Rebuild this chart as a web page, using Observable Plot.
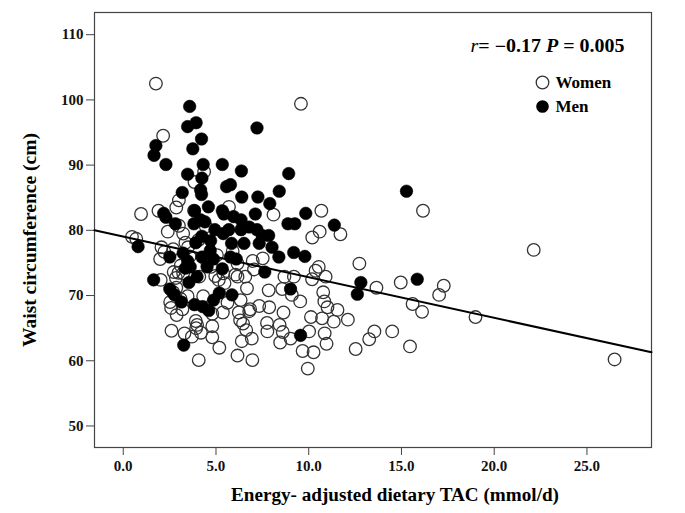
<!DOCTYPE html>
<html>
<head>
<meta charset="utf-8">
<script src="https://cdn.jsdelivr.net/npm/d3@7"></script>
<script src="https://cdn.jsdelivr.net/npm/@observablehq/plot@0.6"></script>
<style>
  html, body { margin: 0; padding: 0; background: #fff; }
  #chart svg { display: block; }
</style>
</head>
<body>
<div id="chart"></div>
<script>
// ---- data ----
const menX = [3.58,3.47,3.93,7.21,4.22,1.76,1.66,3.75,2.30,4.31,5.34,3.47,4.24,8.92,6.37,5.57,5.78,4.17,4.22,3.18,6.39,7.26,8.41,15.27,7.90,4.59,5.34,3.84,2.18,2.30,9.84,5.42,7.12,5.95,6.35,8.88,9.25,11.38,2.81,4.17,4.40,3.81,4.94,5.69,6.35,6.79,7.21,7.49,7.84,5.39,7.33,5.84,6.51,3.91,4.24,4.71,8.02,8.39,9.19,9.79,5.78,6.09,4.69,4.86,4.24,3.23,2.51,3.47,3.61,4.52,3.35,5.34,7.63,3.98,3.54,1.64,15.85,12.81,12.62,9.02,2.51,2.76,5.18,5.86,4.87,3.14,3.84,4.28,4.61,9.56,3.26,0.80];
const menY = [99.0,95.9,96.5,95.7,94.0,93.0,91.5,92.5,90.1,90.1,90.1,88.6,88.0,88.7,89.1,86.7,87.0,86.2,85.5,85.8,85.1,85.1,86.0,86.0,84.1,83.6,83.0,83.0,82.6,82.0,82.6,82.5,82.5,82.1,81.6,81.0,81.0,80.8,81.0,81.6,81.3,81.0,80.1,80.1,80.1,80.5,80.1,79.2,79.2,79.5,78.0,78.0,78.0,78.1,79.1,78.4,77.4,75.9,76.6,76.0,75.9,75.6,76.9,75.6,75.9,76.5,75.9,75.3,74.4,74.4,74.2,74.1,73.6,72.9,72.0,72.4,72.5,72.0,70.2,71.0,71.0,70.1,70.4,70.1,69.3,69.0,68.6,68.3,67.7,63.9,62.4,77.5];
const womenX = [1.76,9.58,2.15,4.36,3.84,3.00,2.86,3.82,1.90,0.96,5.70,8.10,10.68,16.16,3.00,3.23,10.59,10.19,11.71,0.47,0.70,3.35,2.06,2.22,1.99,2.69,3.49,22.13,7.52,6.16,6.98,12.73,10.54,10.37,4.96,6.16,6.58,8.69,9.20,10.91,5.15,5.46,7.05,10.18,2.02,2.84,14.96,17.28,13.65,6.67,7.84,8.57,10.78,17.03,2.86,2.69,3.47,4.31,2.53,3.09,6.33,9.09,10.84,9.54,5.62,15.60,7.33,7.87,11.01,11.55,6.84,6.23,6.79,2.58,3.19,2.88,5.37,4.80,8.64,18.99,16.11,10.12,10.72,11.35,12.11,6.30,3.91,3.98,6.46,7.75,8.43,4.80,3.93,6.63,7.77,8.60,10.02,10.86,2.60,3.30,4.19,4.80,3.70,13.54,14.50,13.26,9.02,8.46,6.39,6.93,10.96,5.18,12.53,15.46,9.67,10.26,6.16,4.07,6.96,9.95,26.49,3.23,2.98,3.58,4.52,4.73,5.39,4.10,2.72,4.05,5.05,5.90,6.05,3.10,2.40,4.45];
const womenY = [102.5,99.4,94.5,89.0,87.4,84.6,83.5,83.0,83.0,82.5,83.6,82.4,83.0,83.0,80.7,79.5,79.8,78.9,79.4,79.0,78.7,78.1,77.4,76.7,75.6,77.1,77.4,77.0,75.7,74.9,75.3,74.9,74.4,73.8,73.0,72.9,72.9,72.9,72.9,72.9,72.4,71.9,74.0,72.5,72.4,72.7,72.0,71.5,71.2,71.1,70.8,71.0,70.5,70.1,71.2,70.5,69.9,69.9,69.0,69.5,69.3,70.1,69.1,69.1,68.9,68.7,68.4,68.2,68.2,67.8,67.9,67.4,67.6,68.1,67.9,67.0,67.4,67.2,67.4,66.7,67.5,66.7,66.5,66.0,66.3,66.2,66.1,65.5,65.7,65.8,65.5,65.3,65.0,64.7,64.5,64.4,64.5,64.2,64.6,64.2,64.3,63.6,63.7,64.5,64.5,63.3,63.4,62.8,63.0,63.4,62.6,62.0,61.8,62.2,61.5,61.3,60.8,60.1,60.1,58.8,60.2,73.4,73.5,76.0,75.2,74.4,73.4,72.9,73.6,78.5,76.2,76.8,73.2,74.6,79.8,80.6];
// fitted regression line end points (r = -0.17)
const fitX = [-1.55, 28.48];
const fitY = [80.0, 61.3];
const xTicks = [0, 5, 10, 15, 20, 25];
const yTicks = [50, 60, 70, 80, 90, 100, 110];
const statText = "r= \u22120.17 P = 0.005";
const legendLabels = ["Women", "Men"];
const yTitle = "Waist circumference (cm)";
const xTitle = "Energy- adjusted dietary TAC (mmol/d)";

const women = womenX.map((x, i) => ({x, y: womenY[i]}));
const men = menX.map((x, i) => ({x, y: menY[i]}));
const fit = fitX.map((x, i) => ({x, y: fitY[i]}));

const serif = "'Liberation Serif', 'Times New Roman', serif";

const plot = Plot.plot({
  width: 685,
  height: 513,
  marginLeft: 94,
  marginRight: 34,
  marginTop: 12,
  marginBottom: 66,
  style: {fontFamily: serif, fontWeight: "bold", fontSize: "15px", background: "#fff", color: "#111"},
  x: {domain: [-1.55, 28.48], ticks: xTicks, tickFormat: d3.format(".1f"), label: null},
  y: {domain: [46.7, 113.4], ticks: yTicks, label: null},
  marks: [
    Plot.frame({stroke: "#444", strokeWidth: 1.2}),
    Plot.axisX({ticks: xTicks, tickFormat: d3.format(".1f"), tickSize: 8, tickPadding: 5, stroke: "#444", label: null, fontSize: 15}),
    Plot.axisY({ticks: yTicks, tickSize: 8, tickPadding: 3, stroke: "#444", label: null, fontSize: 15}),
    Plot.dot(women, {x: "x", y: "y", r: 6.3, stroke: "#333", strokeWidth: 1.3, fill: "none"}),
    Plot.dot(men, {x: "x", y: "y", r: 6.3, fill: "#000", stroke: "#000", strokeWidth: 0.5}),
    Plot.line(fit, {x: "x", y: "y", stroke: "#000", strokeWidth: 2}),
    Plot.text([statText], {frameAnchor: "top-left", dx: 376, dy: 34, textAnchor: "start", lineAnchor: "middle", fontSize: 18, fill: "#000"}),
    Plot.dot([legendLabels[0]], {frameAnchor: "top-left", dx: 448, dy: 70, r: 6.3, stroke: "#333", strokeWidth: 1.3, fill: "none"}),
    Plot.dot([legendLabels[1]], {frameAnchor: "top-left", dx: 448, dy: 94, r: 6.3, fill: "#000"}),
    Plot.text([legendLabels[0]], {frameAnchor: "top-left", dx: 461, dy: 70, textAnchor: "start", lineAnchor: "middle", fontSize: 17, fill: "#000"}),
    Plot.text([legendLabels[1]], {frameAnchor: "top-left", dx: 461, dy: 94, textAnchor: "start", lineAnchor: "middle", fontSize: 17, fill: "#000"}),
    Plot.text([yTitle], {frameAnchor: "left", dx: -64, dy: 10, rotate: -90, fontSize: 18, fill: "#000", textAnchor: "middle", lineAnchor: "middle"}),
    Plot.text([xTitle], {frameAnchor: "bottom", dx: 22, dy: 48, fontSize: 18, fill: "#000", textAnchor: "middle", lineAnchor: "middle"})
  ]
});

const svg = d3.select(plot);
// style the statistic text: italic r and P, stretched like the original
svg.selectAll("text").filter(function() { return this.textContent === statText; })
  .each(function() {
    const t = d3.select(this);
    t.text(null);
    t.attr("textLength", 154).attr("lengthAdjust", "spacingAndGlyphs");
    t.append("tspan").attr("font-style", "italic").attr("font-weight", "normal").text("r");
    t.append("tspan").text("= \u22120.17 ");
    t.append("tspan").attr("font-style", "italic").text("P");
    t.append("tspan").text(" = 0.005");
  });
svg.selectAll("text").filter(function() { return this.textContent === xTitle; })
  .attr("textLength", 328).attr("lengthAdjust", "spacingAndGlyphs");
svg.selectAll("text").filter(function() { return this.textContent === yTitle; })
  .attr("textLength", 214).attr("lengthAdjust", "spacingAndGlyphs");

document.getElementById("chart").appendChild(plot);
</script>
</body>
</html>
